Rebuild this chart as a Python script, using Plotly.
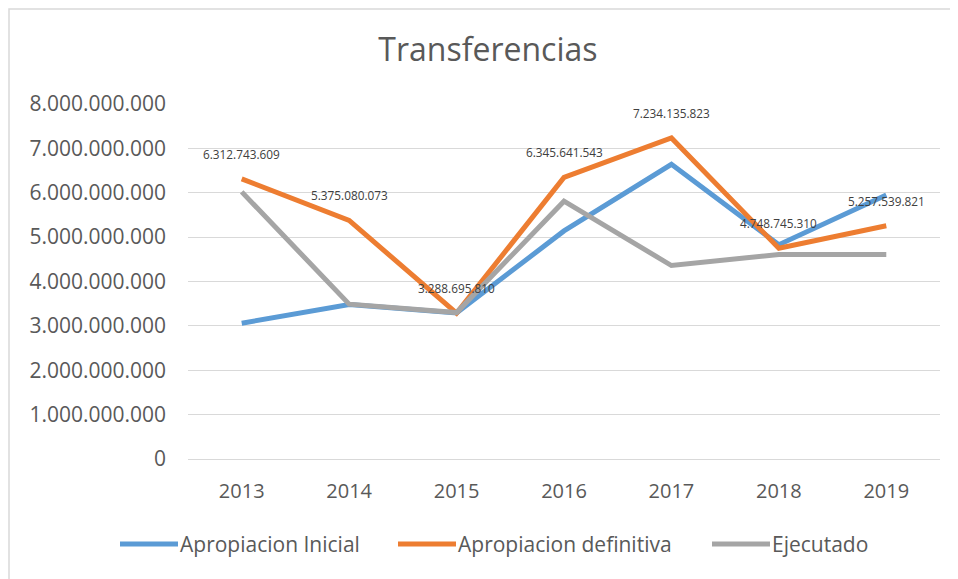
import plotly.graph_objects as go

years = ["2013", "2014", "2015", "2016", "2017", "2018", "2019"]
apropiacion_inicial = [3.06e9, 3.48e9, 3.29e9, 5.14e9, 6.64e9, 4.83e9, 5.95e9]
apropiacion_definitiva = [6312743609, 5375080073, 3288695810, 6345641543,
                          7234135823, 4748745310, 5257539821]
ejecutado = [6.02e9, 3.49e9, 3.30e9, 5.81e9, 4.36e9, 4.61e9, 4.61e9]
y_ticks = [0, 1e9, 2e9, 3e9, 4e9, 5e9, 6e9, 7e9, 8e9]


def fmt(v):
    # 1234567 -> "1.234.567"
    return f"{int(round(v)):,}".replace(",", ".")


# plot area: 752 x 355 px, placed at (180, 96) in the figure
L, T, PW, PH = 180, 96, 752, 355


def px_x(x):
    return (x - L) / PW


def px_y(y):
    return (T + PH - y) / PH


fig = go.Figure()
series = [
    ("Apropiacion Inicial", apropiacion_inicial, "#5b9bd5"),
    ("Apropiacion definitiva", apropiacion_definitiva, "#ed7d31"),
    ("Ejecutado", ejecutado, "#a5a5a5"),
]
for name, vals, color in series:
    fig.add_trace(go.Scatter(
        x=years, y=vals, name=name, mode="lines",
        line=dict(color=color, width=5),
        showlegend=False,
    ))

annotations = [
    dict(x=i, y=v, text=fmt(v), showarrow=False, yshift=25,
         font=dict(family="Open Sans", size=11.8, color="#404040"))
    for i, v in enumerate(apropiacion_definitiva)
]

shapes = [
    dict(type="rect", xref="paper", yref="paper",
         x0=px_x(1), x1=1.2, y0=-0.6, y1=px_y(1),
         line=dict(color="#d9d9d9", width=1.5), layer="below"),
]

# legend drawn by hand so the key lines are as long as in the original
legend_x = [112, 390, 704]
legend_y = 536
for (name, _, color), lx in zip(series, legend_x):
    shapes.append(dict(type="line", xref="paper", yref="paper",
                       x0=px_x(lx), x1=px_x(lx + 58),
                       y0=px_y(legend_y), y1=px_y(legend_y),
                       line=dict(color=color, width=5)))
    annotations.append(dict(xref="paper", yref="paper",
                            x=px_x(lx + 58), y=px_y(legend_y),
                            xanchor="left", yanchor="middle",
                            text=name, showarrow=False,
                            font=dict(size=21, color="#595959")))

fig.update_layout(
    width=958,
    height=579,
    paper_bgcolor="white",
    plot_bgcolor="white",
    margin=dict(l=L, r=958 - L - PW, t=T, b=579 - T - PH),
    font=dict(family="Open Sans", color="#595959"),
    title=dict(
        text="Transferencias",
        x=0.501, xref="container", xanchor="center",
        y=0.927, yref="container", yanchor="middle",
        font=dict(size=32, color="#595959"),
    ),
    xaxis=dict(
        type="category",
        categoryorder="array",
        categoryarray=years,
        range=[-0.5, len(years) - 0.5],
        showgrid=False,
        showline=False,
        tickfont=dict(size=20, color="#595959"),
        ticklabelstandoff=18,
    ),
    yaxis=dict(
        range=[0, 8e9],
        tickvals=y_ticks,
        ticktext=[fmt(v) for v in y_ticks],
        showgrid=True,
        gridcolor="#d9d9d9",
        gridwidth=1,
        zeroline=True,
        zerolinecolor="#d9d9d9",
        zerolinewidth=1,
        tickfont=dict(size=21, color="#595959"),
        ticklabelstandoff=21,
    ),
    showlegend=False,
    annotations=annotations,
    shapes=shapes,
)

fig.write_html("out.html")
